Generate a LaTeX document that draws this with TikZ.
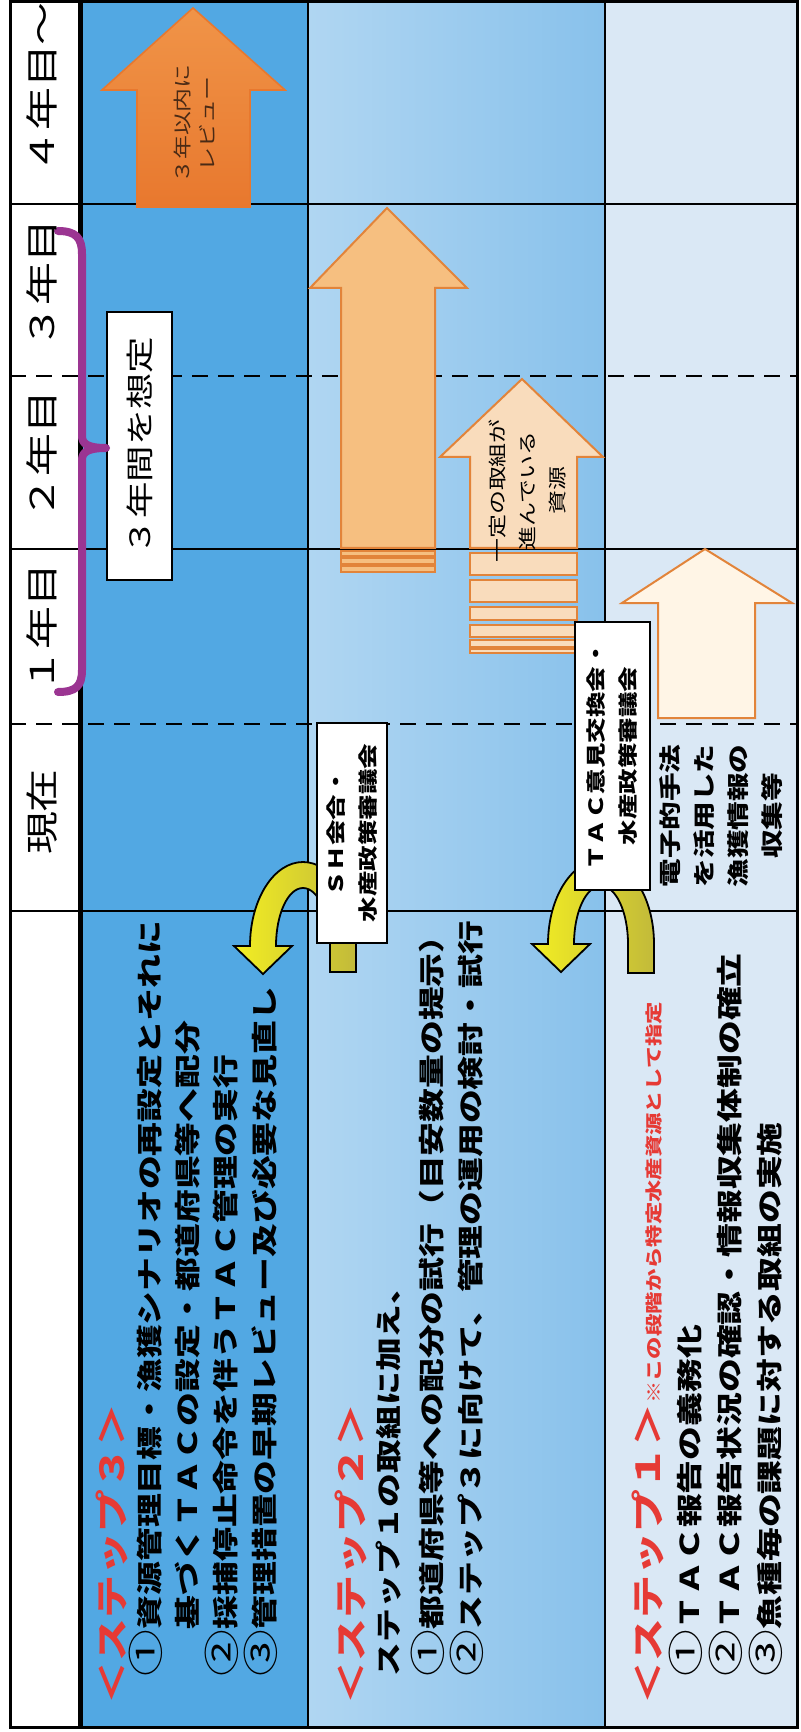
\documentclass[tikz,border=0pt]{standalone}
\usepackage{fontspec}
\newfontfamily\jp[FakeStretch=1.3]{Noto Sans CJK JP}
\newcommand{\jfs}[2]{\fontsize{#1}{#2}\selectfont}
\newcommand{\cnum}[1]{{\mdseries\jfs{18}{16}#1}}
\definecolor{sthree}{HTML}{52A8E3}
\definecolor{stwoA}{HTML}{B0D6F2}
\definecolor{stwoB}{HTML}{88C1EB}
\definecolor{sone}{HTML}{DAE8F5}
\definecolor{orgdark}{HTML}{E8782E}
\definecolor{orgdarkB}{HTML}{F09448}
\definecolor{orgline}{HTML}{E2843A}
\definecolor{orgmid}{HTML}{F6BF80}
\definecolor{orglight}{HTML}{F9DCBC}
\definecolor{orgcream}{HTML}{FFF5E6}
\definecolor{yel}{HTML}{F3EE22}
\definecolor{olive}{HTML}{C2BA3A}
\definecolor{purp}{HTML}{9B3592}
\definecolor{stepred}{HTML}{E63A35}
\definecolor{textbrown}{HTML}{4A2A15}
\newcommand{\ybend}[3]{\path[draw=black, line width=0.9pt, left color=yel, right color=olive]
  ({#1+53},#3) -- ({#1+53},#2) arc[start angle=0, end angle=-180, x radius=53, y radius=84]
  -- ({#1-69},#2) -- ({#1-40},{#2+28}) -- ({#1-11},#2) -- ({#1-27},#2)
  arc[start angle=-180, end angle=0, x radius=27, y radius=58] -- ({#1+27},#3) -- cycle;}
\tikzset{
  jt/.style={rotate=90, inner sep=0pt, outer sep=0pt},
  steptext/.style={jt, anchor=west, font=\jp\bfseries\jfs{13}{16}, text=black},
  stephead/.style={jt, anchor=west, font=\jp\bfseries\jfs{16.5}{18}, text=stepred},
  hdr/.style={jt, anchor=center, font=\jp\jfs{16.5}{18}},
  gridline/.style={line width=1.25pt, black},
  dashline/.style={line width=1.4pt, black, dash pattern=on 8pt off 5pt},
  oarrow/.style={draw=orgline, line width=1pt},
  infobox/.style={jt, draw=black, line width=1pt, fill=white, align=center, font=\jp\bfseries\jfs{9.8}{16}},
}
\begin{document}
\begin{tikzpicture}[x=0.5pt,y=-0.5pt]
\useasboundingbox (0,0) rectangle (801,1732);
\fill[white] (0,0) rectangle (801,1732);
% bands
\fill[sthree] (80,2) rectangle (308,1727);
\shade[left color=stwoA, right color=stwoB] (308,2) rectangle (605,1727);
\fill[sone] (605,2) rectangle (797,1727);
% grid
\foreach \yy in {204,549,911} \draw[gridline] (10,\yy) -- (797,\yy);
\foreach \yy in {376,724} \draw[dashline] (10,\yy) -- (797,\yy);
\draw[gridline] (308,2) -- (308,1727);
\draw[gridline] (605,2) -- (605,1727);
\draw[line width=2.5pt] (80,2) -- (80,1727);
\draw[line width=1.5pt] (10,2) rectangle (797,1727);
% orange arrows
\path[top color=orgdarkB, bottom color=orgdark, draw=orgdark, line width=0.8pt]
  (137,207) -- (137,90) -- (102,90) -- (193,8) -- (285,90) -- (250,90) -- (250,207) -- cycle;
\path[fill=orgmid, oarrow] (341,548) -- (341,288) -- (310,288) -- (387,208) -- (467,288) -- (435,288) -- (435,548) -- cycle;
\foreach \a/\b in {551/556,558/564,566/572}
  \path[fill=orgmid, oarrow, line width=0.8pt] (341,\a) rectangle (435,\b);
\path[fill=orglight, oarrow] (470,548) -- (470,457) -- (440,457) -- (522,379) -- (603,457) -- (577,457) -- (577,548) -- cycle;
\foreach \a/\b in {553/575,580/602,607/620,625/637,640/647,649/653}
  \path[fill=orglight, oarrow] (470,\a) rectangle (577,\b);
\path[fill=orgcream, oarrow] (658,718) -- (658,603) -- (622,603) -- (705,549) -- (792,603) -- (755,603) -- (755,718) -- cycle;
% yellow bent arrows
\ybend{303}{946}{972}
\ybend{601}{944}{973}
% boxes
\node[infobox, minimum width=110pt, minimum height=35pt] (shbox) at (352,833) {ＳＨ会合・\\水産政策審議会};
\node[infobox, minimum width=134pt, minimum height=37.5pt] (tacbox) at (612.5,756) {ＴＡＣ意見交換会・\\水産政策審議会};
\node[jt, draw=black, line width=1pt, fill=white, minimum width=134pt, minimum height=32.5pt, font=\jp\jfs{14}{16}] (yrbox) at (139.5,446) {３年間を想定};
% brace
\draw[purp, line width=4pt, line cap=round, line join=round]
  (58,231) .. controls (76,231) and (82,238) .. (82,254) -- (82,436)
  .. controls (82,444) and (88,448) .. (106,448)
  .. controls (88,448) and (82,452) .. (82,460) -- (82,670)
  .. controls (82,686) and (76,692) .. (58,692);
% header
\node[hdr] (h0) at (42,812) {現在};
\node[hdr] (h1) at (42,628) {１年目};
\node[hdr] (h2) at (42,455) {２年目};
\node[hdr] (h3) at (42,284) {３年目};
\node[hdr] (h4) at (42,88) {４年目～};
% arrow texts
\node[jt, align=center, font=\jp\jfs{9.2}{12.5}, text=textbrown] (t1) at (194,124) {３年以内に\\レビュー};
\node[jt, align=center, font=\jp\jfs{9.2}{15}] (t3) at (527,491) {一定の取組が\\進んでいる\\資源};
\node[jt, align=center, font=\jp\bfseries\jfs{11}{17}] (t4) at (721,816) {電子的手法\\を活用した\\漁獲情報の\\収集等};
% step 3
\node[stephead] (s3h) at (112,1704) {＜ステップ３＞};
\node[steptext] (s3a) at (146,1676) {\cnum{①}資源管理目標・漁獲シナリオの再設定とそれに};
\node[steptext] (s3b) at (184,1676) {\phantom{\cnum{①}}基づくＴＡＣの設定・都道府県等へ配分};
\node[steptext] (s3c) at (222,1676) {\cnum{②}採捕停止命令を伴うＴＡＣ管理の実行};
\node[steptext] (s3d) at (261,1676) {\cnum{③}管理措置の早期レビュー及び必要な見直し};
% step 2
\node[stephead] (s2h) at (351,1704) {＜ステップ２＞};
\node[steptext] (s2a) at (389,1676) {ステップ１の取組に加え、};
\node[steptext] (s2b) at (428,1676) {\cnum{①}都道府県等への配分の試行（目安数量の提示）};
\node[steptext] (s2c) at (467,1676) {\cnum{②}ステップ３に向けて、管理の運用の検討・試行};
% step 1
\node[stephead] (s1h) at (648,1704) {＜ステップ１＞{\jfs{8.6}{10}※この段階から特定水産資源として指定}};
\node[steptext] (s1a) at (686,1676) {\cnum{①}ＴＡＣ報告の義務化};
\node[steptext] (s1b) at (726,1676) {\cnum{②}ＴＡＣ報告状況の確認・情報収集体制の確立};
\node[steptext] (s1c) at (766,1676) {\cnum{③}魚種毎の課題に対する取組の実施};
\end{tikzpicture}
\end{document}
